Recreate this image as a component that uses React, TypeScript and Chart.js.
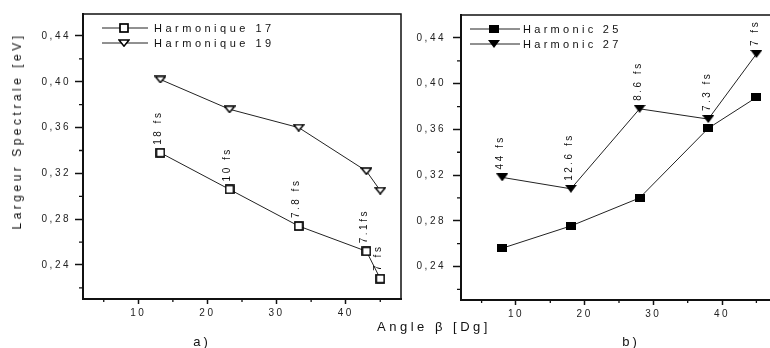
import React, { useEffect, useRef } from "react";
import { Chart, registerables } from "chart.js";

Chart.register(...registerables);

const FONT = '"Liberation Sans", Arial, Helvetica, sans-serif';

// axis ticks
const yTicks = [0.24, 0.28, 0.32, 0.36, 0.4, 0.44];
const yMinorTicks = [0.22, 0.26, 0.3, 0.34, 0.38, 0.42];
const xTicks = [10, 20, 30, 40];
const xMinorTicks = [5, 15, 25, 35, 45];

// panel a)
const anglesA = [13.2, 23.2, 33.2, 43, 45];
const harm17 = [0.338, 0.306, 0.274, 0.252, 0.228];
const harm19 = [0.402, 0.376, 0.36, 0.322, 0.305];
const pulsesA = ["18 fs", "10 fs", "7.8 fs", "7.1fs", "7 fs"];
const legendA = ["Harmonique 17", "Harmonique 19"];

// panel b)
const anglesB = [8, 18, 28, 38, 45];
const harm25 = [0.256, 0.2755, 0.3, 0.361, 0.388];
const harm27 = [0.318, 0.308, 0.378, 0.369, 0.426];
const pulsesB = ["44 fs", "12.6 fs", "8.6 fs", "7.3 fs", "7 fs"];
const legendB = ["Harmonic 25", "Harmonic 27"];

function makeMarker(kind: string): HTMLCanvasElement {
  const c = document.createElement("canvas");
  if (kind === "openSquare") {
    c.width = 10; c.height = 10;
    const ctx = c.getContext("2d")!;
    ctx.fillStyle = "#fff";
    ctx.fillRect(1, 1, 8, 8);
    ctx.strokeStyle = "#000";
    ctx.lineWidth = 1.7;
    ctx.strokeRect(1, 1, 8, 8);
  } else if (kind === "openTri") {
    c.width = 12; c.height = 8;
    const ctx = c.getContext("2d")!;
    ctx.beginPath();
    ctx.moveTo(1, 1);
    ctx.lineTo(11, 1);
    ctx.lineTo(6, 7.2);
    ctx.closePath();
    ctx.fillStyle = "#fff";
    ctx.fill();
    ctx.strokeStyle = "#000";
    ctx.lineWidth = 1.5;
    ctx.stroke();
  } else if (kind === "fillSquare") {
    c.width = 10; c.height = 8;
    const ctx = c.getContext("2d")!;
    ctx.fillStyle = "#000";
    ctx.fillRect(0, 0, 10, 8);
  } else {
    c.width = 12; c.height = 8;
    const ctx = c.getContext("2d")!;
    ctx.beginPath();
    ctx.moveTo(0, 0);
    ctx.lineTo(12, 0);
    ctx.lineTo(6, 8);
    ctx.closePath();
    ctx.fillStyle = "#000";
    ctx.fill();
  }
  return c;
}

type PanelCfg = {
  xs: number[];
  series: number[][];
  markers: string[];
  labels: string[];
  pulses: string[];
  pulseIdx: number;
  yMin: number;
  yMax: number;
  axisWidth: number;
  padTop: number;
  padRight: number;
  xHeight: number;
  yLabelPad: number;
  legend: { x0: number; x1: number; xm: number; xt: number; ys: number[]; spacing: number };
  pulseDx: number;
  pulseDy: number;
};

function buildChart(canvas: HTMLCanvasElement, cfg: PanelCfg) {
  const imgs = cfg.markers.map(makeMarker);
  const decor = {
    id: "decor",
    beforeDraw(chart: any) {
      const ctx = chart.ctx;
      ctx.save();
      ctx.fillStyle = "#fff";
      ctx.restore();
      (ctx as any).letterSpacing = "2.5px";
    },
    afterDraw(chart: any) {
      const ctx = chart.ctx;
      const a = chart.chartArea;
      const xs = chart.scales.x;
      const ys = chart.scales.y;
      ctx.save();
      ctx.strokeStyle = "#111";
      // top & right frame
      ctx.lineWidth = 1.5;
      ctx.beginPath();
      ctx.moveTo(a.left, a.top);
      ctx.lineTo(a.right, a.top);
      ctx.lineTo(a.right, a.bottom);
      ctx.stroke();
      // minor ticks
      ctx.lineWidth = 1.3;
      ctx.beginPath();
      yMinorTicks.forEach((v) => {
        if (v < cfg.yMin || v > cfg.yMax) return;
        const py = ys.getPixelForValue(v);
        ctx.moveTo(a.left - 4, py);
        ctx.lineTo(a.left, py);
      });
      xMinorTicks.forEach((v) => {
        const px = xs.getPixelForValue(v);
        if (px > a.right) return;
        ctx.moveTo(px, a.bottom);
        ctx.lineTo(px, a.bottom + 3);
      });
      ctx.stroke();
      // legend
      const L = cfg.legend;
      ctx.font = "11px " + FONT;
      ctx.fillStyle = "#111";
      ctx.textBaseline = "middle";
      ctx.textAlign = "left";
      (ctx as any).letterSpacing = L.spacing + "px";
      cfg.labels.forEach((lab, i) => {
        const y = L.ys[i];
        ctx.lineWidth = 1;
        ctx.strokeStyle = "#222";
        ctx.beginPath();
        ctx.moveTo(L.x0, y);
        ctx.lineTo(L.x1, y);
        ctx.stroke();
        const im = imgs[i];
        ctx.drawImage(im, Math.round(L.xm - im.width / 2), Math.round(y - im.height / 2));
        ctx.fillText(lab, L.xt, y + 0.5);
      });
      // pulse annotations
      ctx.font = "10px " + FONT;
      (ctx as any).letterSpacing = "2.5px";
      const meta = chart.getDatasetMeta(cfg.pulseIdx);
      cfg.pulses.forEach((t, i) => {
        const p = meta.data[i];
        if (!p) return;
        ctx.save();
        ctx.translate(p.x + cfg.pulseDx, p.y - cfg.pulseDy);
        ctx.rotate(-Math.PI / 2);
        ctx.textAlign = "left";
        ctx.textBaseline = "middle";
        ctx.fillText(t, 0, 0);
        ctx.restore();
      });
      ctx.restore();
    },
  };

  return new Chart(canvas, {
    type: "scatter",
    data: {
      datasets: cfg.series.map((ys, si) => ({
        label: cfg.labels[si],
        data: cfg.xs.map((x, i) => ({ x, y: ys[i] })),
        showLine: true,
        borderColor: "#222",
        borderWidth: 1,
        backgroundColor: "#000",
        pointStyle: imgs[si] as any,
        pointRadius: 5,
        pointHoverRadius: 5,
        fill: false,
      })),
    },
    options: {
      responsive: false,
      animation: false,
      events: [],
      layout: { padding: { top: cfg.padTop, right: cfg.padRight, left: 0, bottom: 0 } },
      plugins: { legend: { display: false }, tooltip: { enabled: false }, title: { display: false } },
      scales: {
        x: {
          type: "linear",
          min: 2,
          max: 48,
          afterBuildTicks: (s: any) => {
            s.ticks = xTicks.map((v) => ({ value: v }));
          },
          afterFit: (s: any) => {
            s.height = cfg.xHeight;
          },
          grid: { drawOnChartArea: false, drawTicks: true, tickLength: 5, tickColor: "#111", tickWidth: 1.5 },
          border: { display: true, color: "#111", width: 2 },
          ticks: {
            color: "#222",
            font: { family: FONT, size: 10 },
            padding: 3,
            maxRotation: 0,
            autoSkip: false,
            callback: (v: any) => String(v),
          },
        },
        y: {
          type: "linear",
          min: cfg.yMin,
          max: cfg.yMax,
          afterBuildTicks: (s: any) => {
            s.ticks = yTicks.map((v) => ({ value: v }));
          },
          afterFit: (s: any) => {
            s.width = cfg.axisWidth;
          },
          grid: { drawOnChartArea: false, drawTicks: true, tickLength: 8, tickColor: "#111", tickWidth: 1.5 },
          border: { display: true, color: "#111", width: 2 },
          ticks: {
            color: "#222",
            font: { family: FONT, size: 10 },
            padding: cfg.yLabelPad,
            autoSkip: false,
            callback: (v: any) => Number(v).toFixed(2).replace(".", ","),
          },
        },
      },
    },
    plugins: [decor],
  } as any);
}

export default function App() {
  const refA = useRef<HTMLCanvasElement>(null);
  const refB = useRef<HTMLCanvasElement>(null);

  useEffect(() => {
    const ca = buildChart(refA.current!, {
      xs: anglesA,
      series: [harm17, harm19],
      markers: ["openSquare", "openTri"],
      labels: legendA,
      pulses: pulsesA,
      pulseIdx: 0,
      yMin: 0.2103,
      yMax: 0.4592,
      axisWidth: 83,
      padTop: 14,
      padRight: 9,
      xHeight: 49,
      yLabelPad: 4,
      legend: { x0: 102, x1: 148, xm: 124, xt: 154, ys: [28, 43], spacing: 3.5 },
      pulseDx: -2,
      pulseDy: 8,
    });
    const cb = buildChart(refB.current!, {
      xs: anglesB,
      series: [harm25, harm27],
      markers: ["fillSquare", "fillTri"],
      labels: legendB,
      pulses: pulsesB,
      pulseIdx: 1,
      yMin: 0.2107,
      yMax: 0.4601,
      axisWidth: 61,
      padTop: 15,
      padRight: 13,
      xHeight: 48,
      yLabelPad: 7,
      legend: { x0: 70, x1: 120, xm: 94, xt: 123, ys: [29, 44], spacing: 3.3 },
      pulseDx: -1.5,
      pulseDy: 8,
    });
    return () => {
      ca.destroy();
      cb.destroy();
    };
  }, []);

  const txt: React.CSSProperties = {
    position: "absolute",
    whiteSpace: "nowrap",
    color: "#111",
    fontFamily: FONT,
    lineHeight: 1,
  };

  return (
    <div
      style={{
        position: "absolute",
        left: 0,
        top: 0,
        width: 770,
        height: 348,
        overflow: "hidden",
        background: "#fff",
      }}
    >
      <canvas ref={refA} width={410} height={348} style={{ position: "absolute", left: 0, top: 0 }} />
      <canvas ref={refB} width={390} height={348} style={{ position: "absolute", left: 400, top: 0 }} />
      <div
        style={{
          ...txt,
          left: 17,
          top: 131,
          fontSize: 12,
          letterSpacing: "3.5px",
          transform: "translate(-50%, -50%) rotate(-90deg)",
        }}
      >
        Largeur Spectrale [eV]
      </div>
      <div style={{ ...txt, left: 434, top: 326, fontSize: 13, letterSpacing: "3.5px", transform: "translate(-50%, -50%)" }}>
        Angle β [Dg]
      </div>
      <div style={{ ...txt, left: 202, top: 341, fontSize: 13, letterSpacing: "3px", transform: "translate(-50%, -50%)" }}>
        a)
      </div>
      <div style={{ ...txt, left: 631, top: 341, fontSize: 13, letterSpacing: "3px", transform: "translate(-50%, -50%)" }}>
        b)
      </div>
    </div>
  );
}
